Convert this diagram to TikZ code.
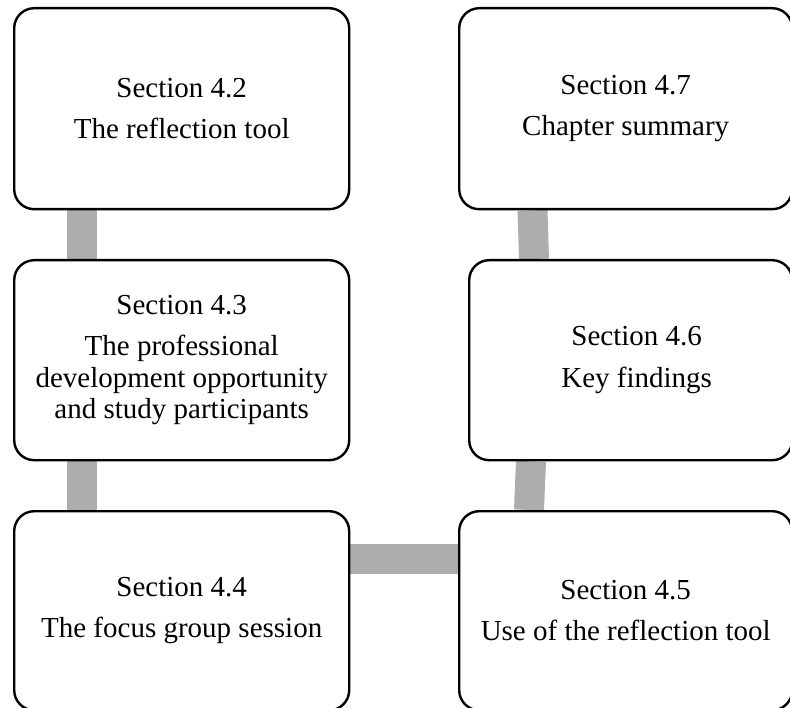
\documentclass[tikz,border=0pt]{standalone}
\usepackage{fontspec}
\setmainfont{Liberation Serif}
\usetikzlibrary{backgrounds}

\tikzset{
  secbox/.style={draw=black, line width=2.4pt, fill=white, rounded corners=20pt,
    align=center, inner sep=0pt, anchor=north west,
    font=\fontsize{29pt}{31.5pt}\selectfont},
  sectext/.style={align=center, inner sep=0pt,
    font=\fontsize{29pt}{31.5pt}\selectfont},
  bar/.style={draw=barGray, line width=30pt, line cap=butt},
}
\definecolor{barGray}{RGB}{173,173,173}

\begin{document}
\begin{tikzpicture}[x=1pt, y=-1pt]
  \useasboundingbox (0,0) rectangle (790,708);

  % left column
  \node[secbox, minimum width=335pt, minimum height=201pt] (b42) at (13,7)
    {Section 4.2\\[10pt]The reflection tool};
  \node[secbox, minimum width=335pt, minimum height=200pt] (b43) at (13,259)
    {Section 4.3\\[10pt]The professional\\development opportunity\\and study participants};
  \node[secbox, minimum width=335pt, minimum height=199pt] (b44) at (13,510)
    {Section 4.4\\[10pt]The focus group session};

  % right column
  \node[secbox, minimum width=333pt, minimum height=199pt] (b45) at (458,510)
    {Section 4.5\\[10pt]Use of the reflection tool};
  \node[secbox, minimum width=323pt, minimum height=200pt] (b46) at (468,259) {};
  \node[sectext] (t46) at ([xshift=6pt]b46.center) {Section 4.6\\[10pt]Key findings};
  \node[secbox, minimum width=333pt, minimum height=201pt] (b47) at (458,7)
    {Section 4.7\\[10pt]Chapter summary};

  % connecting bars behind the boxes
  \begin{scope}[on background layer]
    \draw[bar] ([xshift=68.5pt]b42.south west) -- ([xshift=68.5pt]b43.north west);
    \draw[bar] ([xshift=68.5pt]b43.south west) -- ([xshift=68.5pt]b44.north west);
    \draw[bar] ([yshift=-49pt]b44.north east) -- ([yshift=-49pt]b45.north west);
    \draw[bar] ([xshift=71pt]b45.north west) -- ([xshift=63pt]b46.south west);
    \draw[bar] ([xshift=66pt]b46.north west) -- ([xshift=74.5pt]b47.south west);
  \end{scope}
\end{tikzpicture}
\end{document}
